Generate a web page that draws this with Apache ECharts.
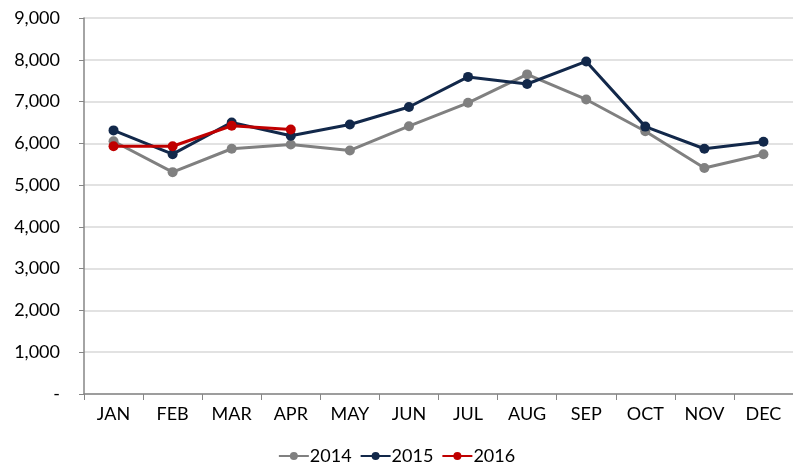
<!DOCTYPE html>
<html>
<head>
<meta charset="utf-8">
<script src="https://cdn.jsdelivr.net/npm/echarts@6/dist/echarts.min.js"></script>
<style>html,body{margin:0;padding:0;background:#fff}#c{width:793px;height:468px}</style>
</head>
<body>
<div id="c"></div>
<script>
var categories = ['JAN','FEB','MAR','APR','MAY','JUN','JUL','AUG','SEP','OCT','NOV','DEC'];
var s2014 = [6050, 5310, 5870, 5970, 5830, 6410, 6970, 7650, 7050, 6290, 5410, 5740];
var s2015 = [6310, 5740, 6500, 6180, 6450, 6870, 7590, 7420, 7960, 6400, 5870, 6040];
var s2016 = [5930, 5930, 6420, 6330];
var yTicks = ['-', '1,000', '2,000', '3,000', '4,000', '5,000', '6,000', '7,000', '8,000', '9,000'];

var font = 'Lato, "Open Sans", sans-serif';
function mk(name, data, color) {
  return {
    name: name, type: 'line', data: data, symbol: 'circle', symbolSize: 10,
    lineStyle: {color: color, width: 3}, itemStyle: {color: color},
    emphasis: {disabled: true}
  };
}
var chart = echarts.init(document.getElementById('c'));
chart.setOption({
  animation: false,
  grid: {left: 84, right: 0, top: 18, bottom: 74, containLabel: false},
  legend: {
    bottom: -2, left: 'center', itemGap: 8, itemWidth: 30, itemHeight: 10,
    textStyle: {fontFamily: font, fontSize: 18, color: '#000', padding: [0,0,0,-4]},
    data: ['2014','2015','2016']
  },
  xAxis: {
    type: 'category', data: categories, boundaryGap: true,
    axisLine: {lineStyle: {color: '#868686', width: 1.5}},
    axisTick: {show: true, length: 6, lineStyle: {color: '#868686'}},
    axisLabel: {fontFamily: font, fontSize: 18, color: '#000', margin: 11}
  },
  yAxis: {
    type: 'value', min: 0, max: 9000, interval: 1000,
    axisLine: {show: true, lineStyle: {color: '#868686', width: 1.5}},
    axisTick: {show: true, length: 5, lineStyle: {color: '#868686'}},
    splitLine: {lineStyle: {color: '#d9d9d9', width: 1.5}},
    axisLabel: {fontFamily: font, fontSize: 18, color: '#000', margin: 24,
      formatter: function (v) { return yTicks[Math.round(v / 1000)]; }}
  },
  series: [mk('2014', s2014, '#808080'), mk('2015', s2015, '#12284a'), mk('2016', s2016, '#c00000')]
});
</script>
</body>
</html>
